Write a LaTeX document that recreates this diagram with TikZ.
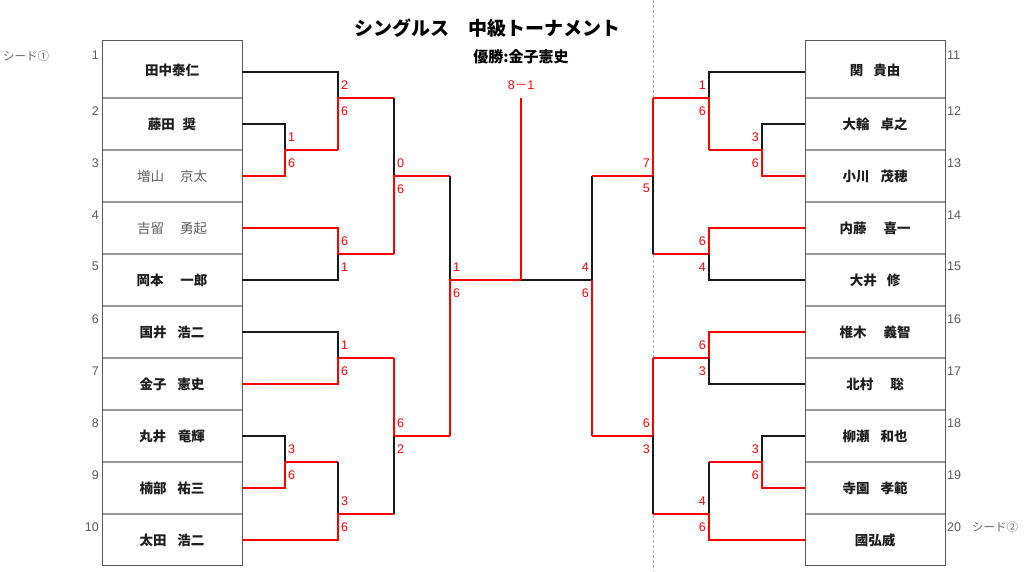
\documentclass[tikz,border=0pt]{standalone}
\usepackage{fontspec}
\setmainfont{Liberation Sans}
\newfontfamily\cjk{Noto Sans CJK JP}
\definecolor{brred}{RGB}{255,0,0}
\begin{document}
\begin{tikzpicture}[x=1pt,y=-1pt,
  nm/.style={font=\cjk\bfseries\fontsize{13.5}{14}\selectfont, text=black!88, inner sep=0pt},
  nmg/.style={font=\cjk\fontsize{13.5}{14}\selectfont, text=black!62, inner sep=0pt},
  sc/.style={font=\fontsize{12.5}{13}\selectfont, text=brred, inner sep=0pt},
  scl/.style={sc, anchor=west},
  scr/.style={sc, anchor=east},
  seedno/.style={font=\fontsize{12.5}{13}\selectfont, text=black!65, inner sep=0pt},
  seedtx/.style={font=\cjk\fontsize{11.5}{12}\selectfont, text=black!60, inner sep=0pt},
  wl/.style={draw=brred, line width=1.5pt},
  ll/.style={draw=black!90, line width=1.3pt},
  outer/.style={draw=black!65, line width=1pt},
  sep/.style={draw=black!40, line width=1.5pt}
]
\useasboundingbox (0,0) rectangle (1024,571);
\fill[white] (0,0) rectangle (1024,571);

% page break line
\draw[black!30, line width=1pt, dash pattern=on 3pt off 2pt] (653.5,0) -- (653.5,571);

% title
\node[font=\cjk\bfseries\fontsize{19}{20}\selectfont, inner sep=0pt] (title) at (487,28) {シングルス　中級トーナメント};
\node[font=\cjk\bfseries\fontsize{15}{16}\selectfont, inner sep=0pt] (champ) at (521,57) {優勝:金子憲史};

\begin{scope}[shift={(0,0.3)}]
% ---------- boxes ----------
\foreach \yy in {97.7,149.7,201.7,253.7,305.7,357.7,409.7,461.7,513.7}{
  \draw[sep] (102,\yy) -- (242,\yy);
  \draw[sep] (805,\yy) -- (945,\yy);
}
\draw[outer] (102,39.7) rectangle (242,564.7);
\draw[outer] (805,39.7) rectangle (945,564.7);

% ---------- left bracket ----------
% A: 2 vs 3
\draw[ll] (242,123.7) -- (285,123.7) -- (285,149.7);
\draw[wl] (242,175.7) -- (285,175.7) -- (285,149.7) -- (338,149.7);
% B: 1 vs A
\draw[ll] (242,71.7) -- (338,71.7) -- (338,97.7);
\draw[wl] (338,149.7) -- (338,97.7) -- (394,97.7);
% C: 4 vs 5
\draw[wl] (242,227.7) -- (338,227.7) -- (338,253.7) -- (394,253.7);
\draw[ll] (242,279.7) -- (338,279.7) -- (338,253.7);
% D
\draw[ll] (394,97.7) -- (394,175.7);
\draw[wl] (394,253.7) -- (394,175.7) -- (450,175.7);
% E: 6 vs 7
\draw[ll] (242,331.7) -- (338,331.7) -- (338,357.7);
\draw[wl] (242,383.7) -- (338,383.7) -- (338,357.7) -- (394,357.7);
% F: 8 vs 9
\draw[ll] (242,435.7) -- (285,435.7) -- (285,461.7);
\draw[wl] (242,487.7) -- (285,487.7) -- (285,461.7) -- (338,461.7);
% G: F vs 10
\draw[ll] (338,461.7) -- (338,513.7);
\draw[wl] (242,539.7) -- (338,539.7) -- (338,513.7) -- (394,513.7);
% H
\draw[wl] (394,357.7) -- (394,435.7) -- (450,435.7);
\draw[ll] (394,513.7) -- (394,435.7);
% semi left
\draw[ll] (450,175.7) -- (450,279.7);
\draw[wl] (450,435.7) -- (450,279.7) -- (521,279.7);
% final
\draw[ll] (521,279.7) -- (592,279.7);
\draw[wl] (521,279.7) -- (521,97.7);

% ---------- right bracket ----------
\draw[ll] (805,71.7) -- (709,71.7) -- (709,97.7);
% R-A: 12 vs 13
\draw[ll] (805,123.7) -- (762,123.7) -- (762,149.7);
\draw[wl] (805,175.7) -- (762,175.7) -- (762,149.7) -- (709,149.7);
% R-B
\draw[wl] (709,149.7) -- (709,97.7) -- (653,97.7);
% R-C: 14 vs 15
\draw[wl] (805,227.7) -- (709,227.7) -- (709,253.7) -- (653,253.7);
\draw[ll] (805,279.7) -- (709,279.7) -- (709,253.7);
% R-D
\draw[wl] (653,97.7) -- (653,175.7) -- (592,175.7);
\draw[ll] (653,253.7) -- (653,175.7);
% R-E: 16 vs 17
\draw[wl] (805,331.7) -- (709,331.7) -- (709,357.7) -- (653,357.7);
\draw[ll] (805,383.7) -- (709,383.7) -- (709,357.7);
% R-F: 18 vs 19
\draw[ll] (805,435.7) -- (762,435.7) -- (762,461.7);
\draw[wl] (805,487.7) -- (762,487.7) -- (762,461.7) -- (709,461.7);
% R-G
\draw[ll] (709,461.7) -- (709,513.7);
\draw[wl] (805,539.7) -- (709,539.7) -- (709,513.7) -- (653,513.7);
% R-H
\draw[wl] (653,357.7) -- (653,435.7) -- (592,435.7);
\draw[ll] (653,513.7) -- (653,435.7);
% semi right
\draw[ll] (592,175.7) -- (592,279.7);
\draw[wl] (592,435.7) -- (592,279.7);
\end{scope}

% names left
\node[nm]  (p1)  at (172,70)    {田中泰仁};
\node[nm]  (p2)  at (172,124.7) {藤田\hspace{8pt}奨};
\node[nmg] (p3)  at (172,176.7) {増山\hspace{16pt}京太};
\node[nmg] (p4)  at (172,228.7) {吉留\hspace{16pt}勇起};
\node[nm]  (p5)  at (172,280.7) {岡本\hspace{17pt}一郎};
\node[nm]  (p6)  at (172,332.7) {国井\hspace{11pt}浩二};
\node[nm]  (p7)  at (172,384.7) {金子\hspace{11pt}憲史};
\node[nm]  (p8)  at (172,436.7) {丸井\hspace{12pt}竜輝};
\node[nm]  (p9)  at (172,488.7) {楠部\hspace{11pt}祐三};
\node[nm]  (p10) at (172,540.7) {太田\hspace{11pt}浩二};
% names right
\node[nm]  (p11) at (875,70)    {関\hspace{10pt}貴由};
\node[nm]  (p12) at (875,124.7) {大輪\hspace{11pt}卓之};
\node[nm]  (p13) at (875,176.7) {小川\hspace{11pt}茂穂};
\node[nm]  (p14) at (875,228.7) {内藤\hspace{17pt}喜一};
\node[nm]  (p15) at (875,280.7) {大井\hspace{10pt}修};
\node[nm]  (p16) at (875,332.7) {椎木\hspace{17pt}義智};
\node[nm]  (p17) at (875,384.7) {北村\hspace{17pt}聡};
\node[nm]  (p18) at (875,436.7) {柳瀬\hspace{11pt}和也};
\node[nm]  (p19) at (875,488.7) {寺園\hspace{11pt}孝範};
\node[nm]  (p20) at (875,540.7) {國弘威};

% seed numbers
\node[seedno, anchor=east] (s1) at (99,55) {1};
\foreach \k [evaluate=\k as \yy using {58.7+52*(\k-1)}] in {2,...,10}{
  \node[seedno, anchor=east] at (99,\yy) {\k};
}
\node[seedno, anchor=west] (s11) at (947,55) {11};
\foreach \k [evaluate=\k as \yy using {58.7+52*(\k-11)}] in {12,...,20}{
  \node[seedno, anchor=west] at (947,\yy) {\k};
}
\node[seedtx, anchor=west] (seed1) at (3,56) {シード①};
\node[seedtx, anchor=west] (seed2) at (972,527) {シード②};

% ---------- scores left ----------
\node[scl] at (288,136.7) {1}; \node[scl] at (288,162.7) {6};
\node[scl] at (341,84.7) {2}; \node[scl] at (341,110.7) {6};
\node[scl] at (341,240.7) {6}; \node[scl] at (341,266.7) {1};
\node[scl] at (397,162.7) {0}; \node[scl] at (397,188.7) {6};
\node[scl] at (341,344.7) {1}; \node[scl] at (341,370.7) {6};
\node[scl] at (288,448.7) {3}; \node[scl] at (288,474.7) {6};
\node[scl] at (341,500.7) {3}; \node[scl] at (341,526.7) {6};
\node[scl] at (397,422.7) {6}; \node[scl] at (397,448.7) {2};
\node[scl] at (453,266.7) {1}; \node[scl] at (453,292.7) {6};
\node[sc] (fin) at (521,85) {8{\cjk －}1};
% ---------- scores right ----------
\node[scr] at (759,136.7) {3}; \node[scr] at (759,162.7) {6};
\node[scr] at (706,84.7) {1}; \node[scr] at (706,110.7) {6};
\node[scr] at (706,240.7) {6}; \node[scr] at (706,266.7) {4};
\node[scr] at (650,162.7) {7}; \node[scr] at (650,188.7) {5};
\node[scr] at (706,344.7) {6}; \node[scr] at (706,370.7) {3};
\node[scr] at (759,448.7) {3}; \node[scr] at (759,474.7) {6};
\node[scr] at (706,500.7) {4}; \node[scr] at (706,526.7) {6};
\node[scr] at (650,422.7) {6}; \node[scr] at (650,448.7) {3};
\node[scr] at (589,266.7) {4}; \node[scr] at (589,292.7) {6};
\end{tikzpicture}
\end{document}
